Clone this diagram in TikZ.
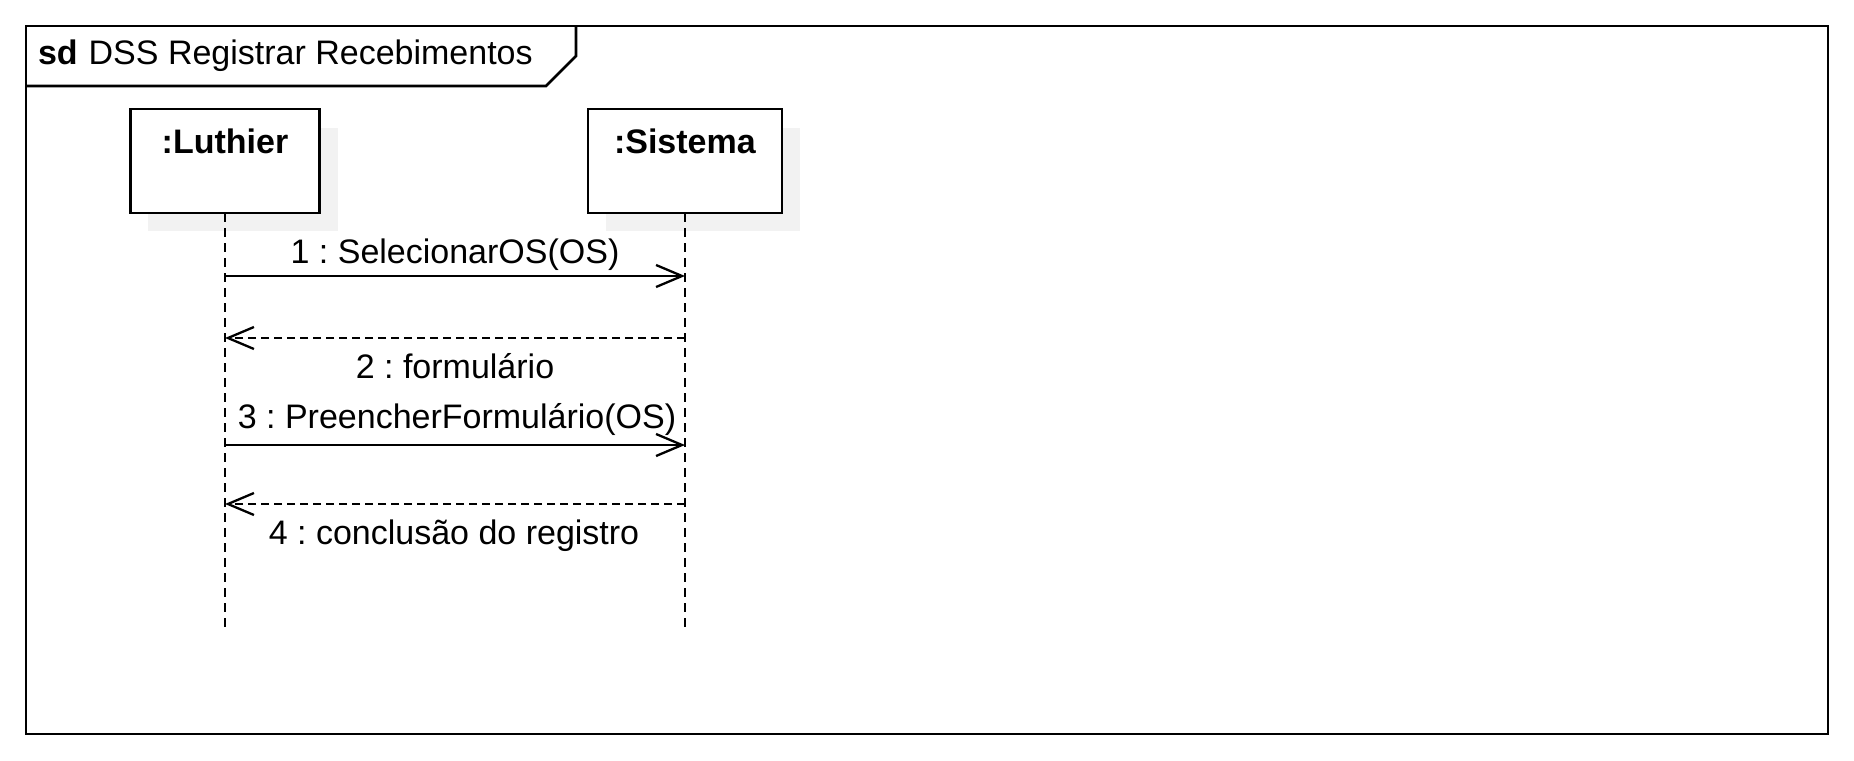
\documentclass[tikz,border=0pt]{standalone}
\usepackage{fontspec}
\setmainfont{Liberation Sans}
\usetikzlibrary{arrows.meta}
\definecolor{shadowgray}{HTML}{F2F2F2}
\frenchspacing
\tikzset{
  frameline/.style={draw=black, line width=2.8pt, line join=miter},
  lifebox/.style={draw=black, fill=white, line width=2.6pt},
  shadowbox/.style={fill=shadowgray, draw=none},
  lifeline/.style={draw=black, line width=2.2pt, dash pattern=on 9pt off 6pt},
  callmsg/.style={draw=black, line width=2.3pt, -{Straight Barb[length=26pt,width=22pt,line width=2.3pt]}},
  replymsg/.style={draw=black, line width=2.3pt, dash pattern=on 8pt off 5pt, -{Straight Barb[length=26pt,width=22pt,line width=2.3pt]}},
  txt/.style={inner sep=0pt, outer sep=0pt, font=\fontsize{34}{40}\selectfont},
}
\begin{document}
\begin{tikzpicture}[x=1pt, y=-1pt]
\useasboundingbox (0,0) rectangle (1854,760);
% frame
\draw[frameline] (26,26) rectangle (1828,734);
\draw[frameline] (26,86) -- (546,86) -- (576,56) -- (576,26);
\node[txt, anchor=base west] (title) at (38,65) {\textbf{sd}\hspace{11pt}DSS Registrar Recebimentos};
% participants: shadows
\fill[shadowbox] (148,128) rectangle (338,231);
\fill[shadowbox] (606,128) rectangle (800,231);
% boxes
\draw[lifebox] (130.5,109) rectangle (319.5,213);
\draw[lifebox] (588,109) rectangle (782,213);
\coordinate (Ltop) at (225,213);
\coordinate (Stop) at (685,213);
\coordinate (Lend) at (225,630);
\coordinate (Send) at (685,630);
\node[txt, anchor=base] (luthier) at (225,153) {\textbf{:Luthier}};
\node[txt, anchor=base] (sistema) at (685,153) {\textbf{:Sistema}};
% lifelines
\draw[lifeline] (Ltop) -- (Lend);
\draw[lifeline] (Stop) -- (Send);
% message points
\coordinate (L1) at (225,276); \coordinate (S1) at (685,276);
\coordinate (L2) at (225,338); \coordinate (S2) at (685,338);
\coordinate (L3) at (225,445); \coordinate (S3) at (685,445);
\coordinate (L4) at (225,504); \coordinate (S4) at (685,504);
\draw[callmsg] (L1) -- (S1);
\draw[replymsg] (S2) -- (L2);
\draw[callmsg] (L3) -- (S3);
\draw[replymsg] (S4) -- (L4);
% labels
\node[txt, anchor=base] (m1) at (455,263) {1 : SelecionarOS(OS)};
\node[txt, anchor=base] (m2) at (455,378) {2 : formulário};
\node[txt, anchor=base] (m3) at (457,428) {3 : PreencherFormulário(OS)};
\node[txt, anchor=base] (m4) at (454,544) {4 : conclusão do registro};
\end{tikzpicture}
\end{document}
